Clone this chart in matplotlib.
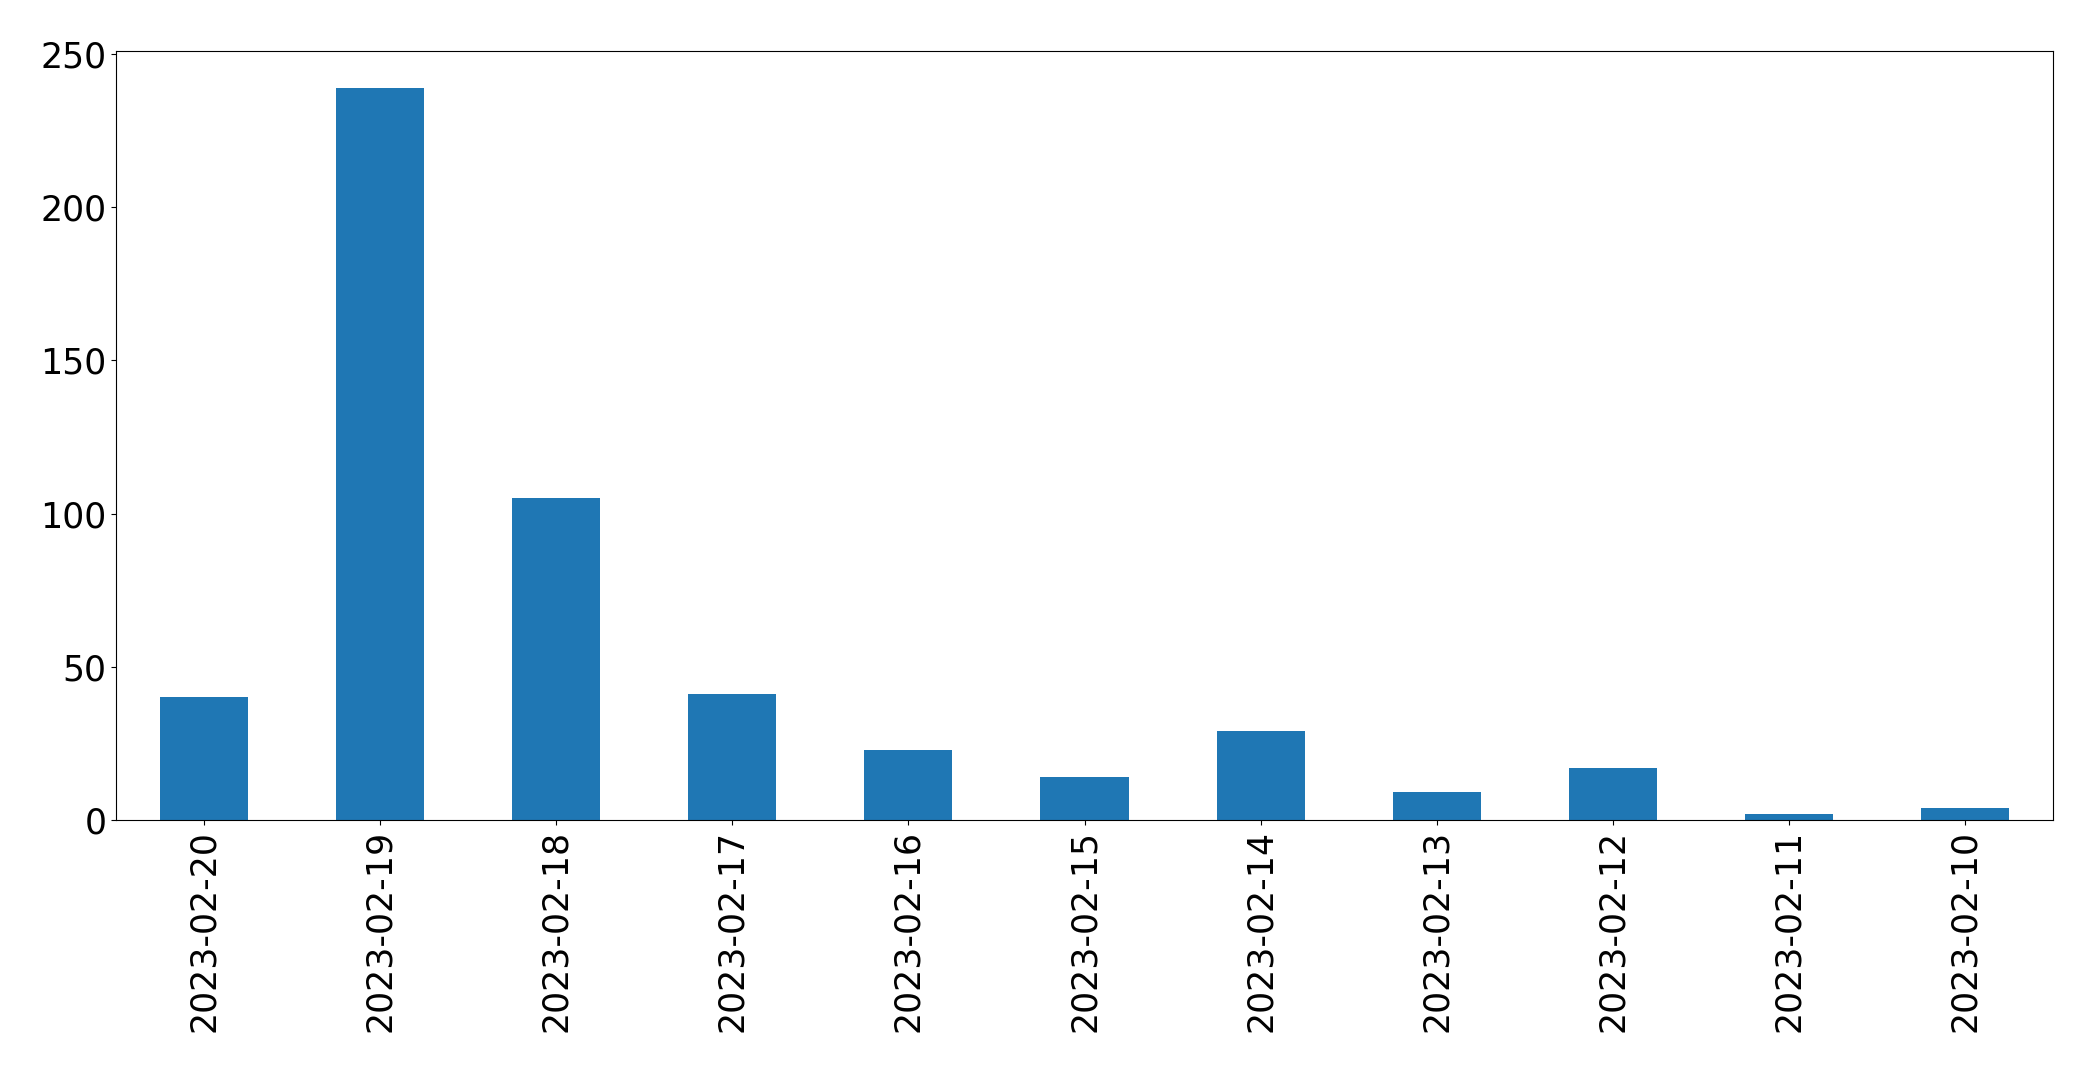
import pandas as pd
import matplotlib
matplotlib.use('Agg')
import matplotlib.pyplot as plt

# daily counts, newest first (as in the original)
dates = ['2023-02-20', '2023-02-19', '2023-02-18', '2023-02-17', '2023-02-16',
         '2023-02-15', '2023-02-14', '2023-02-13', '2023-02-12', '2023-02-11',
         '2023-02-10']
counts = [40, 239, 105, 41, 23, 14, 29, 9, 17, 2, 4]

series = pd.Series(counts, index=dates)

plt.rcParams['font.size'] = 25
fig = plt.figure(figsize=(20.93, 10.72), dpi=100)
ax = fig.add_axes([116 / 2093, 1 - 820 / 1072, (2053 - 116) / 2093, (820 - 51) / 1072])
series.plot.bar(ax=ax, color='#1f77b4')
ax.tick_params(axis='both', labelsize=25)

fig.savefig('out.png', dpi=100)
